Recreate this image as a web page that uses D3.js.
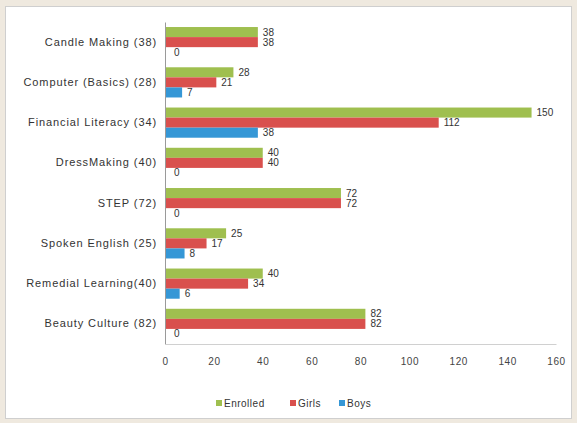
<!DOCTYPE html>
<html><head><meta charset="utf-8">
<script src="https://cdn.jsdelivr.net/npm/d3@7/dist/d3.min.js"></script>
<style>html,body{margin:0;padding:0;background:#efe9df;}svg{display:block;}</style>
</head><body>
<script>
const categories = ["Candle Making (38)","Computer (Basics) (28)","Financial Literacy (34)","DressMaking (40)","STEP (72)","Spoken English (25)","Remedial Learning(40)","Beauty Culture (82)"];
const enrolled = [38,28,150,40,72,25,40,82];
const girls = [38,21,112,40,72,17,34,82];
const boys = [0,7,38,0,0,8,6,0];
const seriesNames = ["Enrolled","Girls","Boys"];
const seriesColors = ["#9fbf4f","#d9504d","#3597d6"];
const xTicks = [0,20,40,60,80,100,120,140,160];

const W=577,H=423;
const svg=d3.select("body").append("svg").attr("width",W).attr("height",H);
svg.append("rect").attr("width",W).attr("height",H).attr("fill","#efe9df");
svg.append("rect").attr("x",5.5).attr("y",6.5).attr("width",566).attr("height",412).attr("fill","#fff").attr("stroke","#cfcfcf");

const font="'Liberation Sans', Arial, sans-serif";
const x=d3.scaleLinear().domain([0,160]).range([165,556]);
const y=d3.scaleBand().domain(categories).range([22,344]).paddingInner(0.25).paddingOuter(0.125);
const sub=d3.scaleBand().domain(seriesNames).range([0,y.bandwidth()]);

const data=[enrolled,girls,boys];
const g=svg.append("g");
seriesNames.forEach((s,si)=>{
  const vals=data[si];
  g.selectAll(".b"+si).data(categories).enter().append("rect")
    .attr("x",x(0)).attr("y",(c)=>y(c)+sub(s))
    .attr("width",(c,i)=>x(vals[i])-x(0)).attr("height",sub.bandwidth())
    .attr("fill",seriesColors[si]);
  g.selectAll(".l"+si).data(categories).enter().append("text")
    .attr("x",(c,i)=>x(vals[i])+(vals[i]===0?9:5))
    .attr("y",(c)=>y(c)+sub(s)+sub.bandwidth()/2)
    .attr("dy","0.35em").attr("font-family",font).attr("font-size",10)
    .attr("fill","#333").text((c,i)=>vals[i]);
});

// axes
const yAxis=d3.axisLeft(y).tickSize(0).tickPadding(8);
const ya=svg.append("g").attr("transform",`translate(${x(0)},0)`).call(yAxis);
ya.select(".domain").attr("stroke","#9a9a9a");
ya.selectAll("text").attr("font-family",font).attr("font-size",11).attr("letter-spacing","0.9px").attr("fill","#333");

const xAxis=d3.axisBottom(x).tickValues(xTicks).tickSize(0).tickPadding(14);
const xa=svg.append("g").attr("transform",`translate(0,344)`).call(xAxis);
xa.select(".domain").attr("stroke","#d0d0d0");
xa.selectAll("text").attr("font-family",font).attr("font-size",10).attr("letter-spacing","0.6px").attr("fill","#444");

// legend
const legX=[216,290,339];
seriesNames.forEach((s,i)=>{
  svg.append("rect").attr("x",legX[i]).attr("y",400).attr("width",6).attr("height",6).attr("fill",seriesColors[i]);
  svg.append("text").attr("x",legX[i]+8).attr("y",403).attr("dy","0.35em")
    .attr("font-family",font).attr("font-size",10).attr("letter-spacing","0.5px").attr("fill","#333").text(s);
});
</script>
</body></html>
